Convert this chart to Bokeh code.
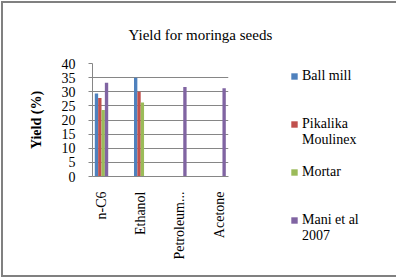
import math
from bokeh.plotting import figure
from bokeh.models import Range1d, FixedTicker, ColumnDataSource, Legend, LegendItem
from bokeh.embed import file_html
from bokeh.resources import INLINE

# ---- data ----
categories = ["n-C6", "Ethanol", "Petroleum...", "Acetone"]
series_names = ["Ball mill", "Pikalika Moulinex", "Mortar", "Mani et al 2007"]
ball_mill = [29.4, 35.0, float("nan"), float("nan")]
pikalika = [27.8, 30.0, float("nan"), float("nan")]
mortar = [23.5, 26.2, float("nan"), float("nan")]
mani = [33.2, float("nan"), 31.7, 31.2]
y_ticks = [0, 5, 10, 15, 20, 25, 30, 35, 40]
title_text = "Yield for moringa seeds"
y_label = "Yield (%)"

colors = ["#4F81BD", "#C0504D", "#9BBB59", "#8064A2"]
FONT = "Liberation Serif"

OFF = 3                      # CSS border (2px) + margin (1px)
W, H = 389, 271
FL, FR, FT, FB = 92 - OFF, 228 - OFF, 62 - OFF, 175 - OFF  # frame edges
spacing = 39.2
first_center = 101.0 - OFF

LEG_X = 58                   # legend offset right of the frame

p = figure(frame_width=FR - FL, frame_height=FB - FT,
           output_backend="svg", toolbar_location=None,
           x_range=Range1d((FL - first_center) / spacing, (FR - first_center) / spacing),
           y_range=Range1d(0, 40),
           min_border_left=FL, min_border_right=W - FR,
           min_border_top=FT, min_border_bottom=H - FB)
p.outline_line_color = None
p.background_fill_color = "white"
p.border_fill_color = "white"
p.styles = {"border": "2px solid #808080", "margin": "1px"}

p.title.text = title_text
p.title.align = "left"
p.title.offset = 36
p.title.standoff = 42
p.title.text_font = FONT
p.title.text_font_size = "15px"
p.title.text_font_style = "normal"
p.title.text_color = "black"

bw = 0.0855
all_series = [ball_mill, pikalika, mortar, mani]
swatches = []
for k, (vals, col) in enumerate(zip(all_series, colors)):
    xs = [i + (k - 1.5) * bw for i in range(len(categories))]
    src = ColumnDataSource(dict(x=xs, top=vals))
    p.vbar(x="x", top="top", bottom=0, width=bw, color=col, source=src, line_color=None)
    # hidden square markers on the same data: only used as legend keys
    swatches.append(p.scatter(x="x", y="top", source=src, marker="square", color=col,
                              line_color=None, visible=False))

# axes
p.xgrid.visible = False
p.ygrid.grid_line_color = "#868686"
p.ygrid.grid_line_width = 1
p.ygrid.ticker = FixedTicker(ticks=y_ticks)

p.yaxis.ticker = FixedTicker(ticks=y_ticks)
p.yaxis.axis_line_color = "#868686"
p.yaxis.major_tick_line_color = "#868686"
p.yaxis.major_tick_in = 0
p.yaxis.major_tick_out = 4
p.yaxis.minor_tick_line_color = None
p.yaxis.major_label_text_font = FONT
p.yaxis.major_label_text_font_size = "14px"
p.yaxis.major_label_text_color = "black"
p.yaxis.major_label_standoff = 13
p.yaxis.axis_label = y_label
p.yaxis.axis_label_text_font = FONT
p.yaxis.axis_label_text_font_size = "14px"
p.yaxis.axis_label_text_font_style = "bold"
p.yaxis.axis_label_text_color = "black"
p.yaxis.axis_label_standoff = 15

p.xaxis.ticker = FixedTicker(ticks=list(range(len(categories))))
p.xaxis.major_label_overrides = {i: c for i, c in enumerate(categories)}
p.xaxis.axis_line_color = "#868686"
p.xaxis.major_tick_line_color = None
p.xaxis.major_tick_in = 0
p.xaxis.major_tick_out = 0
p.xaxis.minor_tick_line_color = None
p.xaxis.major_label_orientation = math.pi / 2
p.xaxis.major_label_text_font = FONT
p.xaxis.major_label_text_font_size = "14px"
p.xaxis.major_label_text_color = "black"
p.xaxis.major_label_standoff = 15

# ---- legend: one row per text line, blank rows as spacers ----
blank = p.scatter(x=[], y=[], marker="square", fill_alpha=0, line_alpha=0)
rows = [
    (series_names[0], swatches[0]),
    (" ", blank), (" ", blank),
    ("Pikalika", swatches[1]),
    ("Moulinex", blank),
    (" ", blank),
    (series_names[2], swatches[2]),
    (" ", blank), (" ", blank),
    ("Mani et al", swatches[3]),
    ("2007", blank),
]
items = [LegendItem(label=t, renderers=[r]) for t, r in rows]
legend = Legend(items=items, location=(LEG_X, -68), orientation="vertical",
                glyph_width=16, glyph_height=16, label_height=16, label_standoff=0,
                spacing=0, padding=0, margin=0,
                border_line_color=None, background_fill_alpha=0,
                inactive_fill_alpha=0,
                label_text_font=FONT, label_text_font_size="14px",
                label_text_color="black")
p.add_layout(legend, "right")

open("out.html", "w").write(file_html(p, INLINE))
